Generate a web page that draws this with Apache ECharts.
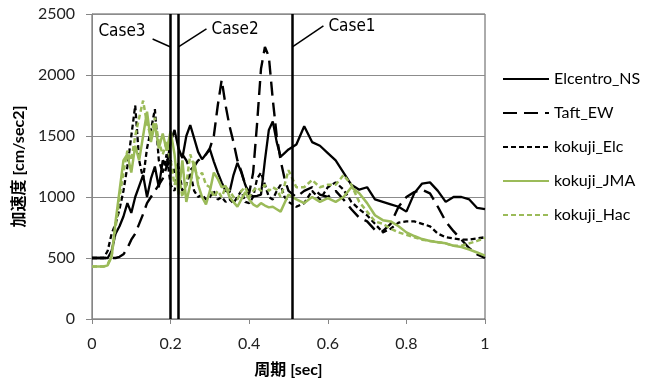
<!DOCTYPE html>
<html>
<head>
<meta charset="utf-8">
<script src="https://cdn.jsdelivr.net/npm/echarts@6/dist/echarts.min.js"></script>
<style>
  body{margin:0;background:#fff;}
  #main{width:658px;height:383px;}
</style>
</head>
<body>
<div id="main"></div>
<script>
// periods [sec]
let periods = [
  0.00,0.01,0.02,0.03,0.04,0.05,0.06,0.07,0.08,0.09,
  0.10,0.11,0.12,0.13,0.14,0.15,0.16,0.17,0.18,0.19,
  0.20,0.21,0.22,0.23,0.24,0.25,0.26,0.27,0.28,0.29,
  0.30,0.31,0.32,0.33,0.34,0.35,0.36,0.37,0.38,0.39,
  0.40,0.41,0.42,0.43,0.44,0.45,0.46,0.47,0.48,0.49,
  0.50,0.52,0.54,0.56,0.58,0.60,0.62,0.64,0.66,0.68,
  0.70,0.72,0.74,0.76,0.78,0.80,0.82,0.84,0.86,0.88,
  0.90,0.92,0.94,0.96,0.98,1.00
];

let elcentroNS = [
  500,500,500,500,500,560,700,760,840,950,
  870,1000,1090,1180,1000,1150,1250,1080,1300,1250,
  1450,1550,1400,1320,1500,1590,1480,1370,1310,1350,
  1390,1290,1200,1120,1050,1040,1180,1280,1200,1100,
  1020,1005,1010,1020,1300,1550,1620,1450,1330,1360,
  1390,1430,1580,1450,1420,1360,1300,1200,1100,1060,
  1080,980,960,940,920,880,1030,1110,1120,1050,
  960,1000,1000,980,910,900
];

let taftEW = [
  500,500,500,500,500,500,500,510,530,580,
  650,700,780,860,950,1000,1050,1100,1150,1250,
  1300,1200,1280,1350,1300,1220,1250,1300,1320,1350,
  1400,1500,1750,1960,1750,1580,1450,1300,1210,1100,
  1030,1200,1600,2050,2230,2150,1800,1500,1300,1150,
  1050,1000,1050,1080,1020,1000,1050,980,900,830,
  800,730,720,780,920,1000,1040,1060,1030,920,
  800,720,650,580,530,500
];

let kokujiElc = [
  500,500,500,500,560,700,780,900,1050,1250,
  1500,1750,1300,1150,1400,1550,1720,1300,1200,1350,
  1100,1050,1250,1050,1100,1200,1050,1000,1020,980,
  1000,1050,980,1000,960,980,950,1000,1050,960,
  950,1000,1150,1200,1100,1000,980,1050,1100,1000,
  960,920,950,1050,980,1080,1120,1060,960,900,
  850,780,710,740,790,800,800,780,760,700,
  670,660,650,650,660,670
];

let kokujiJMA = [
  430,430,430,430,440,510,800,1050,1300,1350,
  1200,1420,1300,1500,1700,1450,1600,1400,1520,1380,
  1540,1350,1020,1300,960,1100,1290,1100,1000,940,
  1050,1200,1150,1080,1090,1000,960,920,980,1040,
  980,940,920,950,930,915,920,900,880,950,
  1020,980,950,1000,960,990,960,1000,1080,1030,
  950,850,810,800,760,710,680,655,640,630,
  620,600,590,570,545,520
];

let kokujiHac = [
  430,430,430,430,450,520,750,1000,1200,1380,
  1300,1500,1650,1790,1600,1500,1650,1450,1350,1450,
  1300,1100,1200,1000,1100,1350,1250,1150,1200,1100,
  1080,1000,1050,1000,1080,1050,1000,980,1050,1080,
  1000,1050,1080,1050,1100,1050,1080,1060,1000,1100,
  1220,1080,1080,1140,1080,1100,1100,1180,1100,960,
  880,800,780,740,710,690,670,650,640,630,
  620,600,600,620,640,665
];

let caseNames = ['Case3','Case2','Case1'];
let casePeriods = [0.20, 0.22, 0.51];

function pairs(vals){
  return periods.map(function(p,i){ return [p, vals[i]]; });
}

let green = '#9bbb59';
let fontLatin = 'Lato, "Noto Sans CJK JP", sans-serif';

let chart = echarts.init(document.getElementById('main'));

chart.setOption({
  animation:false,
  grid:{
    left:92, right:173, top:14, bottom:63,
    show:true, borderColor:'#595959', borderWidth:1
  },
  legend:{
    orient:'vertical',
    left:497, top:66,
    itemWidth:46, itemHeight:14, itemGap:18,
    itemStyle:{opacity:0},
    textStyle:{fontFamily:fontLatin, fontSize:16, color:'#000'},
    data:['Elcentro_NS','Taft_EW','kokuji_Elc','kokuji_JMA','kokuji_Hac']
  },
  xAxis:{
    type:'value', min:0, max:1, interval:0.2,
    name:'周期 [sec]', nameLocation:'middle', nameGap:43,
    nameTextStyle:{fontFamily:fontLatin, fontSize:16, fontWeight:'bold', color:'#000'},
    axisLine:{lineStyle:{color:'#868686'}},
    axisTick:{show:true, length:5, lineStyle:{color:'#868686'}},
    axisLabel:{fontFamily:fontLatin, fontSize:16, color:'#222', margin:17},
    splitLine:{show:false}
  },
  yAxis:{
    type:'value', min:0, max:2500, interval:500,
    name:'加速度 [cm/sec2]', nameLocation:'middle', nameGap:54,
    nameTextStyle:{fontFamily:fontLatin, fontSize:16, fontWeight:'bold', color:'#000'},
    axisLine:{show:true, lineStyle:{color:'#868686'}},
    axisTick:{show:true, length:6, lineStyle:{color:'#868686'}},
    axisLabel:{fontFamily:fontLatin, fontSize:16, color:'#222', margin:17,
      formatter:function(v){ return String(v); }},
    splitLine:{lineStyle:{color:'#8c8c8c'}}
  },
  series:[
    {
      name:'Elcentro_NS', type:'line', data:pairs(elcentroNS),
      symbol:'none', color:'#000',
      lineStyle:{color:'#000', width:2.3},
      markLine:{
        silent:true, symbol:['none','none'],
        label:{show:false},
        lineStyle:{color:'#000', width:2.5, type:'solid'},
        data:casePeriods.map(function(p){ return {xAxis:p}; })
      }
    },
    {
      name:'Taft_EW', type:'line', data:pairs(taftEW),
      symbol:'none', color:'#000',
      lineStyle:{color:'#000', width:2.4, type:[14,7]}
    },
    {
      name:'kokuji_Elc', type:'line', data:pairs(kokujiElc),
      symbol:'none', color:'#000',
      lineStyle:{color:'#000', width:2.3, type:[5,3]}
    },
    {
      name:'kokuji_JMA', type:'line', data:pairs(kokujiJMA),
      symbol:'none', color:green,
      lineStyle:{color:green, width:2.5}
    },
    {
      name:'kokuji_Hac', type:'line', data:pairs(kokujiHac),
      symbol:'none', color:green,
      lineStyle:{color:green, width:2.5, type:[5,3]}
    }
  ]
});

// case callouts: leader line from label to the vertical line
let leaderVal = 2230;
let leaderOff = [[-18,-8],[28,-18],[31,-21]];
let graphics = [];
caseNames.forEach(function(name,i){
  let end = chart.convertToPixel({xAxisIndex:0, yAxisIndex:0}, [casePeriods[i], leaderVal]);
  let sx = end[0] + leaderOff[i][0];
  let sy = end[1] + leaderOff[i][1];
  graphics.push({
    type:'line', silent:true,
    shape:{x1:sx, y1:sy, x2:end[0], y2:end[1]},
    style:{stroke:'#000', lineWidth:1.5}
  });
  let left = leaderOff[i][0] < 0;
  graphics.push({
    type:'text', silent:true,
    x: left ? sx - 7 : sx + 5,
    y: left ? sy - 7 : sy + 1,
    style:{
      text:name, fill:'#000',
      font:'17px "DejaVu Sans Condensed", sans-serif',
      align: left ? 'right' : 'left',
      verticalAlign:'middle'
    }
  });
});
chart.setOption({graphic:graphics});
</script>
</body>
</html>
